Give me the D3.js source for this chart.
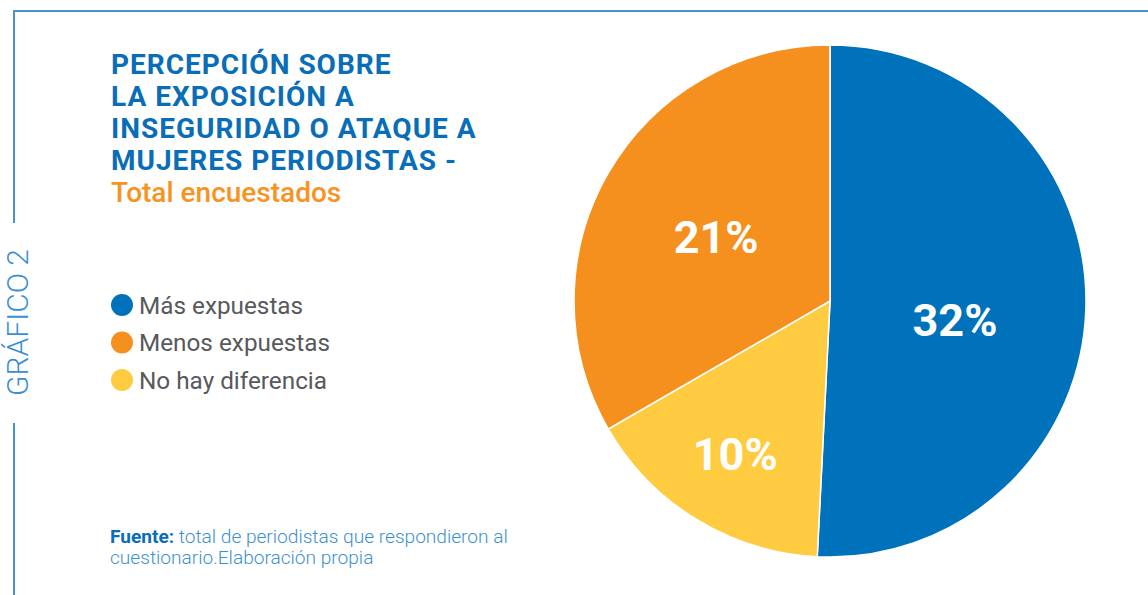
<!DOCTYPE html>
<html>
<head>
<meta charset="utf-8">
<script src="https://cdn.jsdelivr.net/npm/d3@7"></script>
<style>
  html, body { margin: 0; padding: 0; background: #fff; }
  svg { display: block; font-family: Roboto, sans-serif; }
</style>
</head>
<body>
<div id="wrapper"></div>
<script>
// data
const categories = ["Más expuestas", "No hay diferencia", "Menos expuestas"];
const values = [32, 10, 21];
const legendOrder = ["Más expuestas", "Menos expuestas", "No hay diferencia"];
const titleLines = ["PERCEPCIÓN SOBRE", "LA EXPOSICIÓN A", "INSEGURIDAD O ATAQUE A", "MUJERES PERIODISTAS -"];
const subtitle = "Total encuestados";
const sideLabel = "GRÁFICO 2";
const sourceBold = "Fuente:";
const sourceLines = [" total de periodistas que respondieron al", "cuestionario.Elaboración propia"];

const colors = d3.scaleOrdinal()
  .domain(["Más expuestas", "Menos expuestas", "No hay diferencia"])
  .range(["#0072bc", "#f5901f", "#ffcb40"]);

const width = 1148, height = 595;
const frameColor = "#4a92cf";
const titleBlue = "#0a6db7";

const svg = d3.select("#wrapper").append("svg")
  .attr("width", width)
  .attr("height", height);

// frame
svg.append("line")
  .attr("x1", 14).attr("x2", width).attr("y1", 11).attr("y2", 11)
  .attr("stroke", frameColor).attr("stroke-width", 2);
svg.append("line")
  .attr("x1", 14).attr("x2", 14).attr("y1", 10).attr("y2", 223)
  .attr("stroke", frameColor).attr("stroke-width", 2);
svg.append("line")
  .attr("x1", 14).attr("x2", 14).attr("y1", 423).attr("y2", height)
  .attr("stroke", frameColor).attr("stroke-width", 2);

svg.append("text")
  .attr("transform", "translate(28,322.5) rotate(-90)")
  .attr("text-anchor", "middle")
  .attr("fill", "#3a8fd2")
  .style("font-size", "30px")
  .style("font-weight", 300)
  .text(sideLabel);

// title
const title = svg.append("text")
  .attr("x", 111)
  .style("font-size", "28px")
  .style("font-weight", 700);
titleLines.forEach((l, i) => {
  title.append("tspan").attr("x", 111).attr("y", 74 + i * 32)
    .attr("fill", titleBlue)
    .style("letter-spacing", "1px")
    .text(l);
});
title.append("tspan").attr("x", 111).attr("y", 74 + titleLines.length * 32)
  .attr("fill", "#f7931e").style("font-weight", 500).text(subtitle);

// legend
const legend = svg.append("g").attr("transform", "translate(122,305)");
const items = legend.selectAll("g").data(legendOrder).join("g")
  .attr("transform", (d, i) => `translate(0,${i * 37.5})`);
items.append("circle").attr("r", 11).attr("fill", d => colors(d));
items.append("text")
  .attr("x", 17).attr("dy", "0.35em")
  .attr("fill", "#58595b")
  .style("font-size", "24.3px")
  .text(d => d);

// source
const src = svg.append("text").style("font-size", "19.1px").style("font-weight", 300).attr("fill", "#3d90d0");
const l1 = src.append("tspan").attr("x", 110).attr("y", 543);
l1.append("tspan").attr("fill", titleBlue).style("font-weight", 700).text(sourceBold);
l1.append("tspan").text(sourceLines[0]);
src.append("tspan").attr("x", 110).attr("y", 564).text(sourceLines[1]);

// pie
const cx = 830, cy = 301, radius = 256;
const pie = d3.pie().sort(null).value(d => d.value);
const arcs = pie(categories.map((c, i) => ({ category: c, value: values[i] })));
const arc = d3.arc().innerRadius(0).outerRadius(radius);

const g = svg.append("g").attr("transform", `translate(${cx},${cy})`);
g.selectAll("path").data(arcs).join("path")
  .attr("d", arc)
  .attr("fill", d => colors(d.data.category))
  .attr("stroke", "#fff")
  .attr("stroke-width", 1.5);

// label placement: small slices further out; big blue label sits a bit lower
const labelShift = { "Más expuestas": [-3, 16], "Menos expuestas": [-3, 0], "No hay diferencia": [0, -2] };
const labelPos = d => {
  const r = (d.endAngle - d.startAngle) < 1.2 ? radius * 0.71 : radius * 0.5;
  const c = d3.arc().innerRadius(r).outerRadius(r).centroid(d);
  const s = labelShift[d.data.category];
  return [c[0] + s[0], c[1] + s[1]];
};
g.selectAll("text.val").data(arcs).join("text")
  .attr("class", "val")
  .attr("transform", d => `translate(${labelPos(d)})`)
  .attr("text-anchor", "middle")
  .attr("dy", "0.36em")
  .attr("fill", "#fff")
  .style("font-size", "45px")
  .style("font-weight", 700)
  .text(d => d.data.value + "%");
</script>
</body>
</html>
